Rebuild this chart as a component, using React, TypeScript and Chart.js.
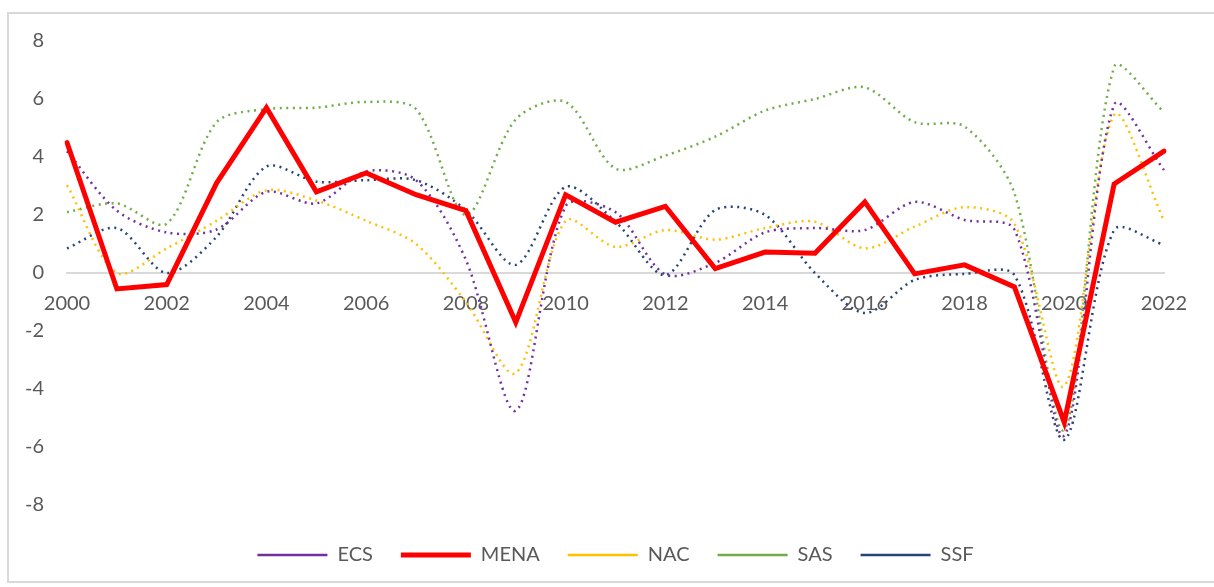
import React, { useEffect, useRef } from 'react';
import { Chart, registerables } from 'chart.js';

Chart.register(...registerables);

const years = [
  '2000', '2001', '2002', '2003', '2004', '2005', '2006', '2007', '2008', '2009', '2010', '2011',
  '2012', '2013', '2014', '2015', '2016', '2017', '2018', '2019', '2020', '2021', '2022',
];

const ecs = [4.2, 2.15, 1.4, 1.5, 2.8, 2.4, 3.5, 3.2, 0.45, -4.75, 2.3, 2.1, -0.05, 0.35, 1.4, 1.55, 1.48, 2.45, 1.83, 1.5, -5.6, 5.8, 3.55];
const mena = [4.5, -0.55, -0.4, 3.1, 5.7, 2.8, 3.45, 2.7, 2.15, -1.7, 2.7, 1.75, 2.3, 0.15, 0.72, 0.68, 2.45, -0.03, 0.28, -0.48, -5.15, 3.07, 4.2];
const nac = [3.03, 0.0, 0.85, 1.8, 2.85, 2.5, 1.8, 1.0, -1.0, -3.45, 1.8, 0.9, 1.48, 1.15, 1.55, 1.77, 0.85, 1.6, 2.27, 1.7, -3.9, 5.45, 1.8];
const sas = [2.1, 2.4, 1.7, 5.2, 5.65, 5.7, 5.9, 5.65, 2.0, 5.3, 5.9, 3.6, 4.05, 4.7, 5.6, 6.0, 6.4, 5.2, 5.05, 2.75, -5.4, 7.1, 5.55];
const ssf = [0.85, 1.55, 0.0, 1.25, 3.67, 3.15, 3.2, 3.2, 2.17, 0.28, 2.97, 1.77, -0.07, 2.17, 2.0, 0.0, -1.38, -0.24, -0.03, -0.07, -5.75, 1.48, 0.97];

const yMin = -8;
const yMax = 8;
const yStep = 2;

const FONT = 'Lato, "Open Sans", "Liberation Sans", sans-serif';
const TEXT = '#595959';

function dotted(label: string, data: number[], color: string) {
  return {
    label,
    data,
    borderColor: color,
    backgroundColor: color,
    borderWidth: 2.5,
    borderDash: [2, 4.5],
    borderCapStyle: 'butt' as const,
    tension: 0.3,
    pointRadius: 0,
    pointHoverRadius: 0,
    fill: false,
    order: 1,
  };
}

export default function App() {
  const ref = useRef<HTMLCanvasElement>(null);

  useEffect(() => {
    const chart = new Chart(ref.current!, {
      type: 'line',
      data: {
        labels: years,
        datasets: [
          dotted('ECS', ecs, '#7030A0'),
          {
            label: 'MENA',
            data: mena,
            borderColor: '#FF0000',
            backgroundColor: '#FF0000',
            borderWidth: 5,
            borderCapStyle: 'round',
            borderJoinStyle: 'miter',
            tension: 0,
            pointRadius: 0,
            pointHoverRadius: 0,
            fill: false,
            order: 0,
          },
          dotted('NAC', nac, '#FFC000'),
          dotted('SAS', sas, '#70AD47'),
          dotted('SSF', ssf, '#264478'),
        ],
      },
      options: {
        animation: false,
        responsive: false,
        devicePixelRatio: 1,
        layout: { padding: { left: 20, right: 50, top: 41, bottom: 12 } },
        plugins: {
          tooltip: { enabled: false },
          legend: {
            position: 'bottom',
            fullSize: false,
            title: { display: true, text: '', padding: 0, font: { size: 12, lineHeight: '12px' } },
            labels: {
              usePointStyle: true,
              pointStyle: 'line',
              pointStyleWidth: 70,
              padding: 28,
              color: TEXT,
              font: { family: FONT, size: 20 },
              sort: (a: any, b: any) => a.datasetIndex - b.datasetIndex,
            },
          },
        },
        scales: {
          x: {
            type: 'category',
            position: { y: 0 } as any,
            grid: { display: false, drawTicks: false },
            border: { display: true, color: '#D9D9D9', width: 2 },
            ticks: {
              autoSkip: false,
              maxRotation: 0,
              padding: 19,
              color: TEXT,
              font: { family: FONT, size: 20 },
              callback: function (this: any, v: any, i: number) {
                return i % 2 === 0 ? this.getLabelForValue(v) : '';
              },
            },
          },
          y: {
            min: yMin,
            max: yMax,
            grid: { display: false, drawTicks: false },
            border: { display: false },
            ticks: { stepSize: yStep, padding: 23, color: TEXT, font: { family: FONT, size: 20 } },
            afterFit: (s: any) => {
              s.width = 47;
            },
          },
        },
      },
    });
    return () => chart.destroy();
  }, []);

  return (
    <div style={{ position: 'fixed', left: 0, top: 0, width: 1214, height: 587, background: '#fff', overflow: 'hidden' }}>
      <div
        style={{
          position: 'absolute',
          left: 7,
          top: 12,
          width: 1240,
          height: 571,
          border: '2px solid #D9D9D9',
          boxSizing: 'border-box',
        }}
      />
      <canvas
        ref={ref}
        width={1214}
        height={587}
        style={{ position: 'absolute', left: 0, top: 0, width: 1214, height: 587 }}
      />
    </div>
  );
}
